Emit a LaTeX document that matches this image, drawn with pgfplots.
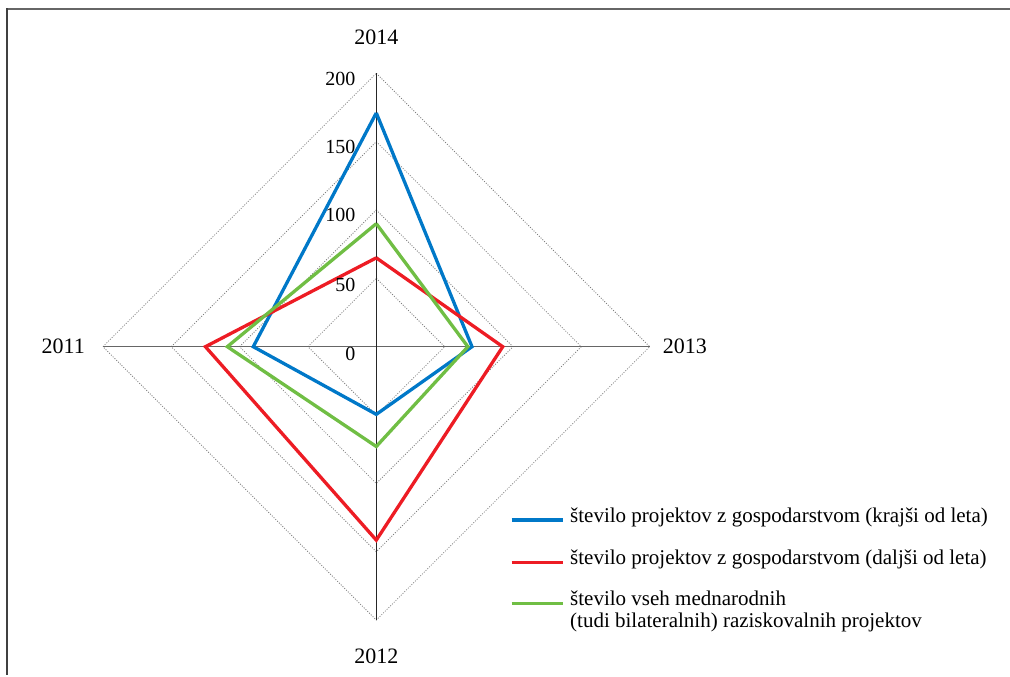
\documentclass[border=0pt]{standalone}
\usepackage{fontspec}
\setmainfont{Liberation Serif}
\usepackage{pgfplots}
\pgfplotsset{compat=1.18}
\definecolor{cblue}{RGB}{0,120,200}
\definecolor{cred}{RGB}{237,28,36}
\definecolor{cgreen}{RGB}{112,190,68}
\begin{document}
\begin{tikzpicture}
\useasboundingbox (-376.3pt,-330.3pt) rectangle (633.7pt,346.7pt);
\begin{axis}[at={(0pt,0pt)}, anchor=origin, x=1.367pt, y=1.367pt,
  xmin=-200, xmax=200, ymin=-200, ymax=200, hide axis, clip=false]
\pgfplotsset{grd/.style={black!50, line width=0.8pt, dash pattern=on 1pt off 1.5pt}}
\addplot[grd] coordinates {(0,50)(50,0)(0,-50)(-50,0)(0,50)};
\addplot[grd] coordinates {(0,100)(100,0)(0,-100)(-100,0)(0,100)};
\addplot[grd] coordinates {(0,150)(150,0)(0,-150)(-150,0)(0,150)};
\addplot[grd] coordinates {(0,200)(200,0)(0,-200)(-200,0)(0,200)};
\addplot[black!60, line width=1.5pt] coordinates {(-200,0)(200,0)};
\addplot[black!85, line width=1.1pt] coordinates {(0,-200)(0,200)};
% data: 2014 (up), 2013 (right), 2012 (down), 2011 (left)
\addplot[cblue, line width=3.3pt, line join=miter] coordinates {(0,171)(70,0)(0,-49.5)(-90,0)(0,171)};
\addplot[cred, line width=3.3pt, line join=miter] coordinates {(0,65)(92.5,0)(0,-141.5)(-125,0)(0,65)};
\addplot[cgreen, line width=3.3pt, line join=miter] coordinates {(0,90)(67,0)(0,-73)(-109,0)(0,90)};
\end{axis}
% frame
\draw[black!60, line width=2pt] (-369.3pt,337.2pt) -- (640pt,337.2pt);
\draw[black!75, line width=2pt] (-368.8pt,338.2pt) -- (-368.8pt,-328.3pt);
% category labels
\begin{scope}[every node/.style={inner sep=0pt, font=\fontsize{22}{26}\selectfont}]
\node[anchor=base] at (0pt,301.7pt) {2014};
\node[anchor=base] at (0pt,-316.8pt) {2012};
\node[anchor=east] at (-291.3pt,0pt) {2011};
\node[anchor=west] at (286.4pt,0pt) {2013};
\end{scope}
% tick labels
\begin{scope}[every node/.style={inner sep=0pt, anchor=north east, font=\fontsize{20}{24}\selectfont}]
\node at (-20.8pt,274.5pt) {200};
\node at (-20.8pt,206.5pt) {150};
\node at (-20.8pt,138.5pt) {100};
\node at (-20.8pt,68.5pt) {50};
\node at (-20.8pt,0pt) {0};
\end{scope}
% legend
\draw[cblue, line width=3.3pt] (135.4pt,-173.3pt) -- (186.4pt,-173.3pt);
\draw[cred, line width=3.3pt] (135.4pt,-215.6pt) -- (186.4pt,-215.6pt);
\draw[cgreen, line width=3.3pt] (135.4pt,-256.6pt) -- (186.4pt,-256.6pt);
\begin{scope}[every node/.style={inner sep=0pt, anchor=mid west, font=\fontsize{21}{24}\selectfont}]
\node at (193.7pt,-173.3pt) {število projektov z gospodarstvom (krajši od leta)};
\node at (193.7pt,-215.6pt) {število projektov z gospodarstvom (daljši od leta)};
\node at (193.7pt,-256.6pt) {število vseh mednarodnih};
\node at (193.7pt,-278.6pt) {(tudi bilateralnih) raziskovalnih projektov};
\end{scope}
\end{tikzpicture}
\end{document}
